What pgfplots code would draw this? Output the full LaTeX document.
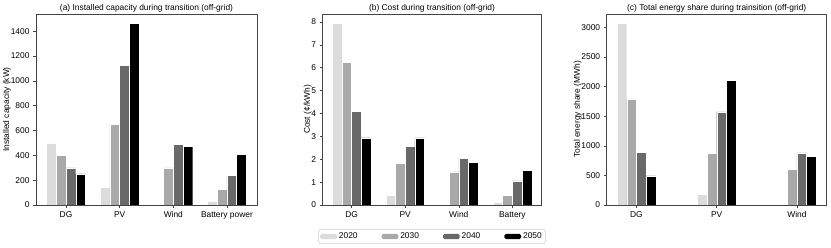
\documentclass[border=0pt]{standalone}
\usepackage{pgfplots}
\pgfplotsset{compat=1.18}
\usepackage{fontspec}
\setmainfont{Liberation Sans}
\definecolor{cA}{HTML}{DCDCDC}
\definecolor{cB}{HTML}{A9A9A9}
\definecolor{cC}{HTML}{696969}
\definecolor{cD}{HTML}{000000}
\definecolor{spine}{HTML}{444444}
\pgfplotsset{
  every axis/.append style={
    scale only axis, height=191pt, ybar=0pt, bar width=9.7pt,
    axis line style={draw=spine, line width=0.6pt},
    tick style={draw=spine, line width=0.5pt},
    tick align=outside, major tick length=3pt,
    xtick pos=bottom, ytick pos=left,
    ymin=0, enlargelimits=false,
    font=\fontsize{8.4}{9.5}\selectfont,
    /pgf/number format/assume math mode=true,
    scaled y ticks=false,
    y tick label style={/pgf/number format/1000 sep={}},
    title style={yshift=-8pt},
    ylabel style={yshift=-7pt},
    legend image code/.code={\path[#1,draw=none] (0pt,-2.6pt) rectangle (16.7pt,2.6pt);},
  },
  b20/.style={fill=cA, draw=white, line width=0.4pt},
  b30/.style={fill=cB, draw=white, line width=0.4pt},
  b40/.style={fill=cC, draw=white, line width=0.4pt},
  b50/.style={fill=cD, draw=white, line width=0.4pt},
}
\begin{document}
\begin{tikzpicture}
\useasboundingbox (0,0) rectangle (831pt,248pt);
% (a)
\begin{axis}[at={(36pt,43pt)}, anchor=south west, width=221pt,
  xmin=-0.56, xmax=3.56, xtick={0,1,2,3},
  xticklabels={DG,PV,Wind,Battery power},
  ymax=1539, ytick={0,200,...,1400},
  ylabel={Installed capacity (kW)},
  title={(a) Installed capacity during transition (off-grid)}]
\addplot[b20] coordinates {(0,500) (1,140) (3,30)};
\addplot[b30] coordinates {(0,400) (1,650) (2,300) (3,125)};
\addplot[b40] coordinates {(0,300) (1,1125) (2,490) (3,240)};
\addplot[b50] coordinates {(0,250) (1,1466) (2,475) (3,410)};
\end{axis}
% (b)
\begin{axis}[at={(322.7pt,43pt)}, anchor=south west, width=218.6pt,
  xmin=-0.54, xmax=3.54, xtick={0,1,2,3},
  xticklabels={DG,PV,Wind,Battery},
  ymax=8.35, ytick={0,1,...,8},
  ylabel={Cost (¢/kWh)},
  title={(b) Cost during transition (off-grid)},
  legend columns=4,
  legend style={at={(0.5,-0.126)}, anchor=north, draw=black!20, line width=0.5pt,
    rounded corners=1.5pt, inner sep=1.5pt,
    /tikz/every even column/.append style={column sep=22pt},
    font=\fontsize{8.4}{9.5}\selectfont}]
\addplot[b20] coordinates {(0,7.95) (1,0.42) (3,0.12)};
\addplot[b30] coordinates {(0,6.25) (1,1.83) (2,1.45) (3,0.42)};
\addplot[b40] coordinates {(0,4.10) (1,2.55) (2,2.05) (3,1.05)};
\addplot[b50] coordinates {(0,2.93) (1,2.93) (2,1.85) (3,1.52)};
\legend{2020,2030,2040,2050}
\end{axis}
% (c)
\begin{axis}[at={(606.7pt,43pt)}, anchor=south west, width=220pt,
  xmin=-0.37, xmax=2.37, xtick={0,1,2},
  xticklabels={DG,PV,Wind},
  ymax=3224, ytick={0,500,...,3000},
  ylabel={Total energy share (MWh)},
  title={(c) Total energy share during trainsition (off-grid)}]
\addplot[b20] coordinates {(0,3070) (1,175)};
\addplot[b30] coordinates {(0,1790) (1,870) (2,600)};
\addplot[b40] coordinates {(0,885) (1,1570) (2,880)};
\addplot[b50] coordinates {(0,490) (1,2100) (2,820)};
\end{axis}
\end{tikzpicture}
\end{document}
